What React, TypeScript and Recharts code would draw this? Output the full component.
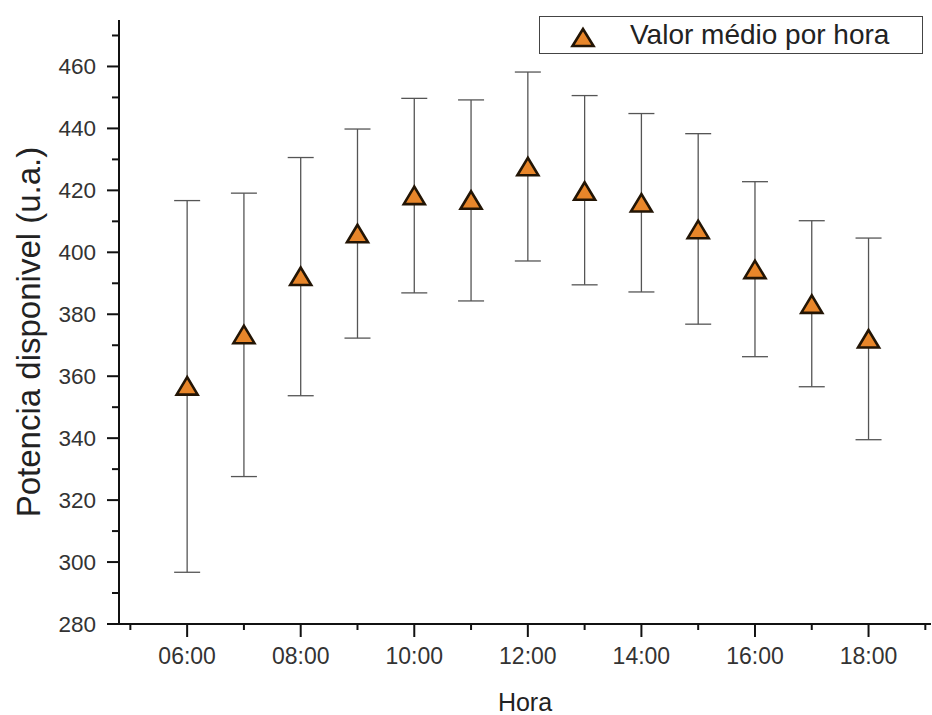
import React from 'react';
import { ScatterChart, Scatter, XAxis, YAxis, ErrorBar, Legend, Label } from 'recharts';

const hours = [6, 7, 8, 9, 10, 11, 12, 13, 14, 15, 16, 17, 18];
const meanValues = [356.8, 373.4, 392.2, 406.0, 418.3, 416.8, 427.6, 419.7, 415.9, 407.3, 394.4, 383.2, 372.0];
const upperValues = [416.7, 419.1, 430.6, 439.8, 449.7, 449.2, 458.2, 450.6, 444.8, 438.3, 422.8, 410.2, 404.6];
const lowerValues = [296.7, 327.6, 353.7, 372.3, 386.9, 384.3, 397.2, 389.5, 387.2, 376.8, 366.3, 356.6, 339.5];
const xTicks = [5, 6, 7, 8, 9, 10, 11, 12, 13, 14, 15, 16, 17, 18, 19];
const yTicks = [280, 290, 300, 310, 320, 330, 340, 350, 360, 370, 380, 390, 400, 410, 420, 430, 440, 450, 460, 470];
const seriesName = 'Valor médio por hora';
const xTitle = 'Hora';
const yTitle = 'Potencia disponivel (u.a.)';

const data = hours.map((h, i) => ({
  hour: h,
  value: meanValues[i],
  err: [meanValues[i] - lowerValues[i], upperValues[i] - meanValues[i]],
}));

const FONT = '"Liberation Sans", Arial, Helvetica, sans-serif';
const ORANGE = '#E8862A';
const DARK = '#231505';

const pad2 = (n: number) => (n < 10 ? '0' + n : '' + n) + ':00';

const XTick = (props: any) => {
  const { x, y, payload } = props;
  const v = payload.value;
  const major = v % 2 === 0;
  return (
    <g>
      <line x1={x} x2={x} y1={y} y2={y + (major ? 13 : 6)} stroke="#111" strokeWidth={2} />
      {major && (
        <text x={x} y={y + 40} textAnchor="middle" fontFamily={FONT} fontSize={23} fill="#333">
          {pad2(v)}
        </text>
      )}
    </g>
  );
};

const YTick = (props: any) => {
  const { x, y, payload } = props;
  const v = payload.value;
  const major = v % 20 === 0;
  return (
    <g>
      <line x1={x - (major ? 12 : 7)} x2={x} y1={y} y2={y} stroke="#111" strokeWidth={2} />
      {major && (
        <text x={x - 23} y={y + 8} textAnchor="end" fontFamily={FONT} fontSize={22.5} fill="#333">
          {v}
        </text>
      )}
    </g>
  );
};

const Tri = (props: any) => {
  const { cx, cy } = props;
  if (cx == null || cy == null) return null;
  return (
    <polygon
      points={`${cx},${cy - 9} ${cx - 10.5},${cy + 8.5} ${cx + 10.5},${cy + 8.5}`}
      fill={ORANGE}
      stroke={DARK}
      strokeWidth={2.6}
      strokeLinejoin="miter"
    />
  );
};

const LegendBox = () => (
  <div
    style={{
      width: 384,
      height: 38,
      border: '1.5px solid #444',
      background: '#fff',
      display: 'flex',
      alignItems: 'center',
      boxSizing: 'border-box',
      fontFamily: FONT,
    }}
  >
    <svg width={90} height={36} style={{ flex: 'none' }}>
      <polygon points="43,12 32.5,29 53.5,29" fill={ORANGE} stroke={DARK} strokeWidth={2.6} />
    </svg>
    <span style={{ fontSize: 28, color: '#222', whiteSpace: 'nowrap', marginLeft: 0 }}>{seriesName}</span>
  </div>
);

export default function App() {
  return (
    <div style={{ position: 'absolute', left: 0, top: 0, width: 932, height: 715, background: '#fff' }}>
      <ScatterChart width={932} height={715} margin={{ top: 20, right: 1, bottom: 0, left: 0 }}>
        <XAxis
          type="number"
          dataKey="hour"
          domain={[4.8, 19.1]}
          ticks={xTicks}
          allowDataOverflow
          height={91}
          tickSize={0}
          tickMargin={0}
          tickLine={false}
          axisLine={{ stroke: '#111', strokeWidth: 2 }}
          tick={<XTick />}
          interval={0}
        >
          <Label
            content={(p: any) => {
              const vb = p.viewBox || {};
              return (
                <text x={vb.x + vb.width / 2} y={711} textAnchor="middle" fontFamily={FONT} fontSize={25} fill="#222">
                  {xTitle}
                </text>
              );
            }}
          />
        </XAxis>
        <YAxis
          type="number"
          dataKey="value"
          domain={[280, 475]}
          ticks={yTicks}
          allowDataOverflow
          width={119}
          tickSize={0}
          tickMargin={0}
          tickLine={false}
          axisLine={{ stroke: '#111', strokeWidth: 2 }}
          tick={<YTick />}
          interval={0}
        >
          <Label
            content={(p: any) => {
              const vb = p.viewBox || {};
              const cy = vb.y + vb.height / 2 + 10;
              return (
                <text
                  x={28}
                  y={cy}
                  transform={`rotate(-90, 28, ${cy})`}
                  textAnchor="middle"
                  dominantBaseline="central"
                  fontFamily={FONT}
                  fontSize={33}
                  fill="#222"
                >
                  {yTitle}
                </text>
              );
            }}
          />
        </YAxis>
        <Legend
          layout="horizontal"
          verticalAlign="middle"
          align="center"
          wrapperStyle={{ position: 'absolute', top: 16, left: 539, width: 384, height: 38 }}
          content={() => <LegendBox />}
        />
        <Scatter name={seriesName} data={data} shape={<Tri />} isAnimationActive={false}>
          <ErrorBar dataKey="err" direction="y" width={13} stroke="#555" strokeWidth={1.3} />
        </Scatter>
      </ScatterChart>
    </div>
  );
}
